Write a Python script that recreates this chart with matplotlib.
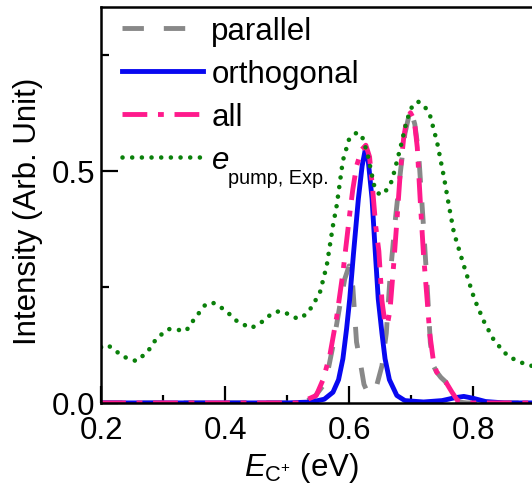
import matplotlib
matplotlib.use("Agg")
import matplotlib.pyplot as plt

plt.rcParams.update({
    "font.family": "Liberation Sans",
    "font.size": 22.5,
    "mathtext.fontset": "custom",
    "mathtext.rm": "Liberation Sans",
    "mathtext.it": "Liberation Sans:italic",
    "mathtext.bf": "Liberation Sans:bold",
})

# ---- data ----
par_x = [0.20, 0.52, 0.542, 0.558, 0.566, 0.574, 0.585, 0.593, 0.600, 0.606, 0.612,
         0.618, 0.624, 0.630, 0.637, 0.645, 0.653, 0.660, 0.666, 0.675, 0.683, 0.690,
         0.699, 0.706, 0.712, 0.720, 0.726, 0.731, 0.736, 0.741, 0.748, 0.756, 0.764,
         0.775, 0.79, 0.90]
par_y = [0.0, 0.0, 0.009, 0.037, 0.070, 0.123, 0.209, 0.267, 0.295, 0.250, 0.131,
         0.088, 0.040, 0.022, 0.020, 0.040, 0.080, 0.150, 0.270, 0.400, 0.500, 0.580,
         0.633, 0.600, 0.540, 0.380, 0.250, 0.130, 0.080, 0.067, 0.055, 0.045, 0.015,
         0.002, 0.0, 0.0]

orth_x = [0.20, 0.50, 0.54, 0.56, 0.574, 0.583, 0.590, 0.596, 0.601, 0.607, 0.615,
          0.621, 0.626, 0.631, 0.637, 0.642, 0.647, 0.653, 0.658, 0.665, 0.677, 0.690,
          0.72, 0.75, 0.77, 0.785, 0.80, 0.82, 0.85, 0.90]
orth_y = [0.0, 0.0, 0.002, 0.008, 0.023, 0.050, 0.095, 0.160, 0.224, 0.320, 0.440,
          0.510, 0.545, 0.520, 0.440, 0.330, 0.224, 0.150, 0.095, 0.050, 0.016, 0.005,
          0.002, 0.005, 0.011, 0.014, 0.010, 0.003, 0.0, 0.0]

all_x = [0.20, 0.52, 0.547, 0.558, 0.569, 0.580, 0.590, 0.601, 0.606, 0.612, 0.620,
         0.627, 0.633, 0.638, 0.643, 0.648, 0.653, 0.658, 0.662, 0.666, 0.672, 0.677,
         0.683, 0.688, 0.693, 0.699, 0.705, 0.710, 0.715, 0.720, 0.726, 0.730, 0.736,
         0.741, 0.748, 0.756, 0.766, 0.775, 0.79, 0.90]
all_y = [0.0, 0.0, 0.016, 0.050, 0.103, 0.185, 0.280, 0.407, 0.460, 0.510, 0.545,
         0.555, 0.530, 0.460, 0.380, 0.327, 0.220, 0.170, 0.170, 0.200, 0.300, 0.390,
         0.505, 0.570, 0.611, 0.625, 0.610, 0.550, 0.430, 0.320, 0.220, 0.150, 0.090,
         0.067, 0.055, 0.045, 0.023, 0.005, 0.0, 0.0]

exp_x = [0.200, 0.210, 0.220, 0.235, 0.257, 0.275, 0.290, 0.309, 0.320, 0.337, 0.350,
         0.369, 0.382, 0.400, 0.420, 0.442, 0.460, 0.475, 0.488, 0.505, 0.517, 0.530,
         0.540, 0.553, 0.564, 0.574, 0.580, 0.590, 0.600, 0.613, 0.622, 0.630, 0.640,
         0.649, 0.660, 0.669, 0.683, 0.693, 0.702, 0.711, 0.720, 0.730, 0.742, 0.753,
         0.761, 0.769, 0.785, 0.802, 0.818, 0.834, 0.856, 0.875, 0.894, 0.900]
exp_y = [0.120, 0.125, 0.116, 0.100, 0.090, 0.110, 0.140, 0.159, 0.158, 0.155, 0.180,
         0.213, 0.215, 0.200, 0.175, 0.161, 0.175, 0.192, 0.198, 0.190, 0.181, 0.190,
         0.207, 0.238, 0.296, 0.382, 0.425, 0.522, 0.568, 0.583, 0.570, 0.535, 0.470,
         0.448, 0.458, 0.478, 0.551, 0.608, 0.640, 0.649, 0.642, 0.622, 0.561, 0.486,
         0.425, 0.367, 0.296, 0.224, 0.174, 0.134, 0.101, 0.088, 0.080, 0.078]

# ---- figure ----
fig = plt.figure(figsize=(5.32, 4.89), dpi=100)
ax = fig.add_axes([0.19, 0.174, 0.81, 0.809])

ax.plot(par_x, par_y, color="#888888", lw=3.5, dashes=(4.4, 4.1), label="parallel")
ax.plot(orth_x, orth_y, color="#0808f0", lw=3.5, label="orthogonal")
ax.plot(all_x, all_y, color="#ff1a8c", lw=3.5, dashes=(5.1, 2.2, 1.2, 2.2), label="all")
ax.plot(exp_x, exp_y, color="#0a800a", lw=3.3, dashes=(0.01, 2.1),
        dash_capstyle="round", label=r"$e$")

ax.set_xlim(0.2, 0.895)
ax.set_ylim(0, 0.852)
ax.set_xticks([0.2, 0.4, 0.6, 0.8])
ax.set_xticks([0.3, 0.5, 0.7], minor=True)
ax.set_yticks([0.0, 0.5])
ax.set_yticks([0.25, 0.75], minor=True)
ax.xaxis.set_major_formatter(matplotlib.ticker.FormatStrFormatter("%.1f"))
ax.yaxis.set_major_formatter(matplotlib.ticker.FormatStrFormatter("%.1f"))

ax.tick_params(which="both", direction="in", width=1.6, top=False, right=False)
ax.tick_params(which="major", length=12)
ax.tick_params(which="minor", length=6)
ax.tick_params(axis="x", pad=9)
ax.tick_params(axis="y", pad=4.5)
for s in ["left", "top", "bottom"]:
    ax.spines[s].set_linewidth(1.8)
ax.spines["right"].set_visible(False)

ax.set_xlabel(r"$E_{\mathrm{C}^{+}}$ (eV)")
ax.xaxis.set_label_coords(0.464, -0.12)
ax.set_ylabel("Intensity (Arb. Unit)")
ax.yaxis.set_label_coords(-0.134, 0.487)

leg = ax.legend(loc="upper left", bbox_to_anchor=(0.02, 1.01), frameon=False,
                handlelength=2.6, handletextpad=0.25, labelspacing=0.42, borderaxespad=0)

# subscript of e_pump, Exp. placed right after the italic e (drawn after the legend)
ax.annotate("pump, Exp.", xy=(1.0, 0.0), xycoords=leg.get_texts()[3],
            xytext=(-1, 5.5), textcoords="offset points",
            ha="left", va="top", fontsize=14.3, zorder=10)

fig.savefig("out.png", dpi=100)
